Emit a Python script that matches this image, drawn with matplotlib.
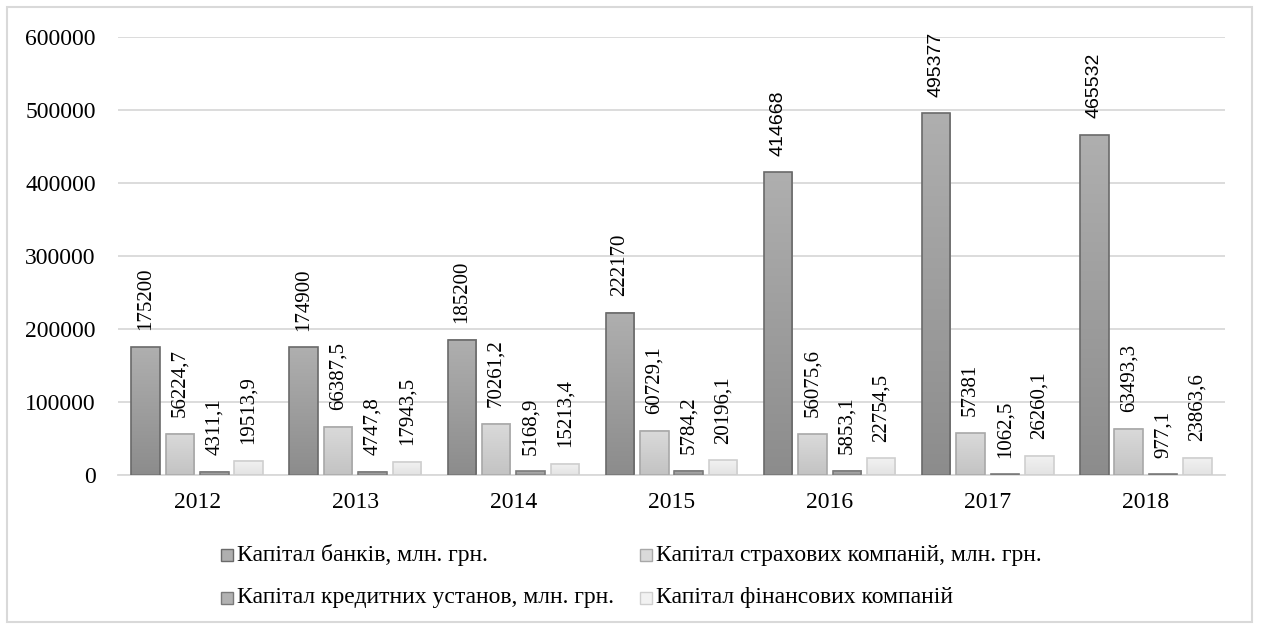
import numpy as np
import matplotlib.pyplot as plt
from matplotlib.colors import LinearSegmentedColormap
from matplotlib.patches import Rectangle

# Дані: капітал фінансових установ України, 2012-2018
years = ["2012", "2013", "2014", "2015", "2016", "2017", "2018"]
banks = [175200, 174900, 185200, 222170, 414668, 495377, 465532]
insurance = [56224.7, 66387.5, 70261.2, 60729.1, 56075.6, 57381, 63493.3]
credit = [4311.1, 4747.8, 5168.9, 5784.2, 5853.1, 1062.5, 977.1]
finance = [19513.9, 17943.5, 15213.4, 20196.1, 22754.5, 26260.1, 23863.6]

series = [banks, insurance, credit, finance]
names = ["Капітал банків, млн. грн.",
         "Капітал страхових компаній, млн. грн.",
         "Капітал кредитних установ, млн. грн.",
         "Капітал фінансових компаній"]

# (низ, верх, контур) для градієнтної заливки кожного ряду
styles = [("#8c8c8c", "#afafaf", "#6a6a6a"),
          ("#c3c3c3", "#dadada", "#a8a8a8"),
          ("#929292", "#b2b2b2", "#7a7a7a"),
          ("#e3e3e3", "#f2f2f2", "#cfcfcf")]

serif = "Liberation Serif"
plt.rcParams["font.family"] = serif

W, H = 1261, 628
fig = plt.figure(figsize=(W / 100, H / 100), dpi=100)
ax = fig.add_axes([118 / W, 1 - 475 / H, 1107 / W, 438 / H])

x = np.arange(len(years))
step = 0.2176
width = 0.18
grad = np.linspace(0, 1, 256).reshape(-1, 1)

for i, (vals, (lo, hi, edge)) in enumerate(zip(series, styles)):
    cmap = LinearSegmentedColormap.from_list(f"g{i}", [lo, hi])
    for j, v in enumerate(vals):
        x0 = x[j] + (i - 1.5) * step - width / 2
        ax.imshow(grad, extent=[x0, x0 + width, 0, v], origin="lower",
                  cmap=cmap, aspect="auto", zorder=2)
        ax.add_patch(Rectangle((x0, 0), width, v, facecolor="none",
                               edgecolor=edge, linewidth=1.2, zorder=3))
        label = f"{v:.1f}".rstrip("0").rstrip(".").replace(".", ",")
        if i == 0 and j >= 4:
            fam, fs = "Liberation Sans", 14
        else:
            fam, fs = serif, 15
        ax.annotate(label, (x0 + width / 2, v), xytext=(0, 12),
                    textcoords="offset points", rotation=90,
                    ha="center", va="bottom", fontsize=fs, family=fam)

ax.set_xlim(-0.5, len(years) - 0.5)
ax.set_ylim(0, 600000)
ax.set_yticks(np.arange(0, 600001, 100000))
ax.set_xticks(x)
ax.set_xticklabels(years)
ax.tick_params(length=0, labelsize=17)
ax.tick_params(axis="x", pad=12)
ax.tick_params(axis="y", pad=16)
ax.grid(axis="y", color="#d9d9d9", linewidth=1.3, zorder=0)
ax.set_axisbelow(True)
for s in ["top", "right", "left"]:
    ax.spines[s].set_visible(False)
ax.spines["bottom"].set_color("#d9d9d9")
ax.spines["bottom"].set_linewidth(1.3)

# легенда: два рядки по два елементи
col_x = [221, 640]
row_y = [555, 598]
for k, name in enumerate(names):
    mx = col_x[k % 2]
    my = row_y[k // 2]
    lo, hi, edge = styles[k]
    fig.patches.append(Rectangle((mx / W, 1 - (my + 6) / H), 12 / W, 12 / H,
                                 transform=fig.transFigure, facecolor=hi,
                                 edgecolor=edge, linewidth=1))
    fig.text((mx + 16) / W, 1 - my / H, name, fontsize=17,
             ha="left", va="center")

# рамка навколо діаграми
fig.patches.append(Rectangle((7 / W, 6 / H), 1245 / W, 615 / H,
                             transform=fig.transFigure, fill=False,
                             edgecolor="#d9d9d9", linewidth=1.5))

fig.savefig("out.png", dpi=100)
